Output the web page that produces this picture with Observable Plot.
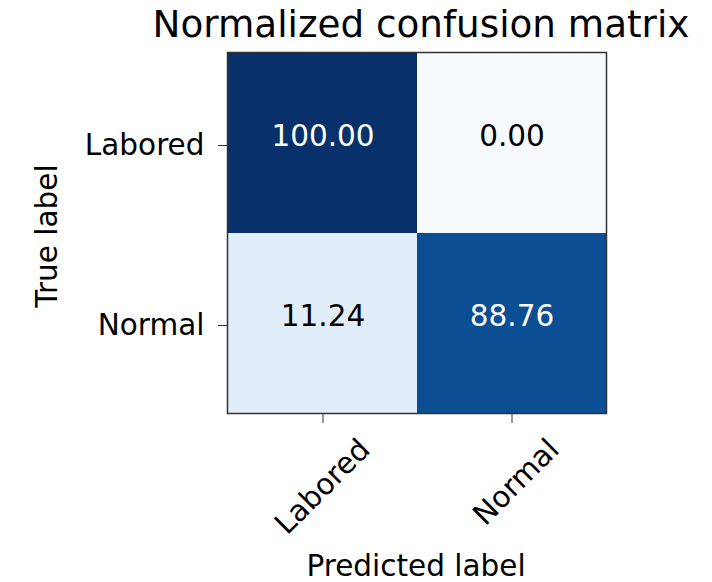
<!DOCTYPE html>
<html>
<head>
<meta charset="utf-8">
<script src="https://cdn.jsdelivr.net/npm/d3@7"></script>
<script src="https://cdn.jsdelivr.net/npm/@observablehq/plot@0.6"></script>
<style>
  html, body { margin: 0; padding: 0; background: #fff; }
  #chart svg { display: block; }
</style>
</head>
<body>
<div id="chart"></div>
<script>
// Class names, in axis order
const classes = ["Labored", "Normal"];

// Confusion-matrix cells (row = true class, column = predicted class), in percent
const trueLabels = ["Labored", "Labored", "Normal", "Normal"];
const predictedLabels = ["Labored", "Normal", "Labored", "Normal"];
const percents = [100.00, 0.00, 11.24, 88.76];

const cells = percents.map((v, i) => ({
  trueLabel: trueLabels[i],
  predicted: predictedLabels[i],
  value: v
}));

const threshold = d3.max(percents) / 2;
const fontSize = 29.5;

const chart = Plot.plot({
  width: 712,
  height: 582,
  marginTop: 52,
  marginBottom: 169,
  marginLeft: 227,
  marginRight: 106,
  style: { fontFamily: "DejaVu Sans, sans-serif", background: "#fff", color: "#000" },
  x: { domain: classes, padding: 0, label: null },
  y: { domain: classes, padding: 0, label: null },
  color: { type: "linear", scheme: "blues", domain: [0, 100] },
  marks: [
    Plot.cell(cells, { x: "predicted", y: "trueLabel", fill: "value" }),
    Plot.text(cells, {
      x: "predicted",
      y: "trueLabel",
      text: (d) => d.value.toFixed(2),
      fill: (d) => (d.value > threshold ? "white" : "black"),
      fontSize,
      dy: -7
    }),
    Plot.frame({ stroke: "#333", strokeWidth: 1.5 }),
    Plot.axisY({
      anchor: "left",
      label: null,
      tickSize: 9,
      tickPadding: 14,
      fontSize,
      stroke: "#333",
      fill: "#000",
      dy: 2
    }),
    // x tick marks
    Plot.axisX({
      anchor: "bottom",
      label: null,
      tickSize: 10,
      stroke: "#333",
      fill: "none"
    }),
    // x tick labels, rotated
    Plot.axisX({
      anchor: "bottom",
      label: null,
      tickSize: 0,
      tickPadding: 31,
      tickRotate: -45,
      fontSize,
      fill: "#000",
      dx: 42
    }),
    // Title
    Plot.text(["Normalized confusion matrix"], {
      frameAnchor: "top",
      lineAnchor: "bottom",
      text: (d) => d,
      fontSize: 37.3,
      fill: "#000",
      dx: 4,
      dy: -16
    }),
    // Axis titles
    Plot.text(["Predicted label"], {
      frameAnchor: "bottom",
      lineAnchor: "bottom",
      text: (d) => d,
      fontSize,
      fill: "#000",
      dx: -1,
      dy: 162
    }),
    Plot.text(["True label"], {
      frameAnchor: "left",
      textAnchor: "middle",
      lineAnchor: "bottom",
      rotate: -90,
      text: (d) => d,
      fontSize,
      fill: "#000",
      dx: -171,
      dy: 3
    })
  ]
});

document.getElementById("chart").appendChild(chart);
</script>
</body>
</html>
